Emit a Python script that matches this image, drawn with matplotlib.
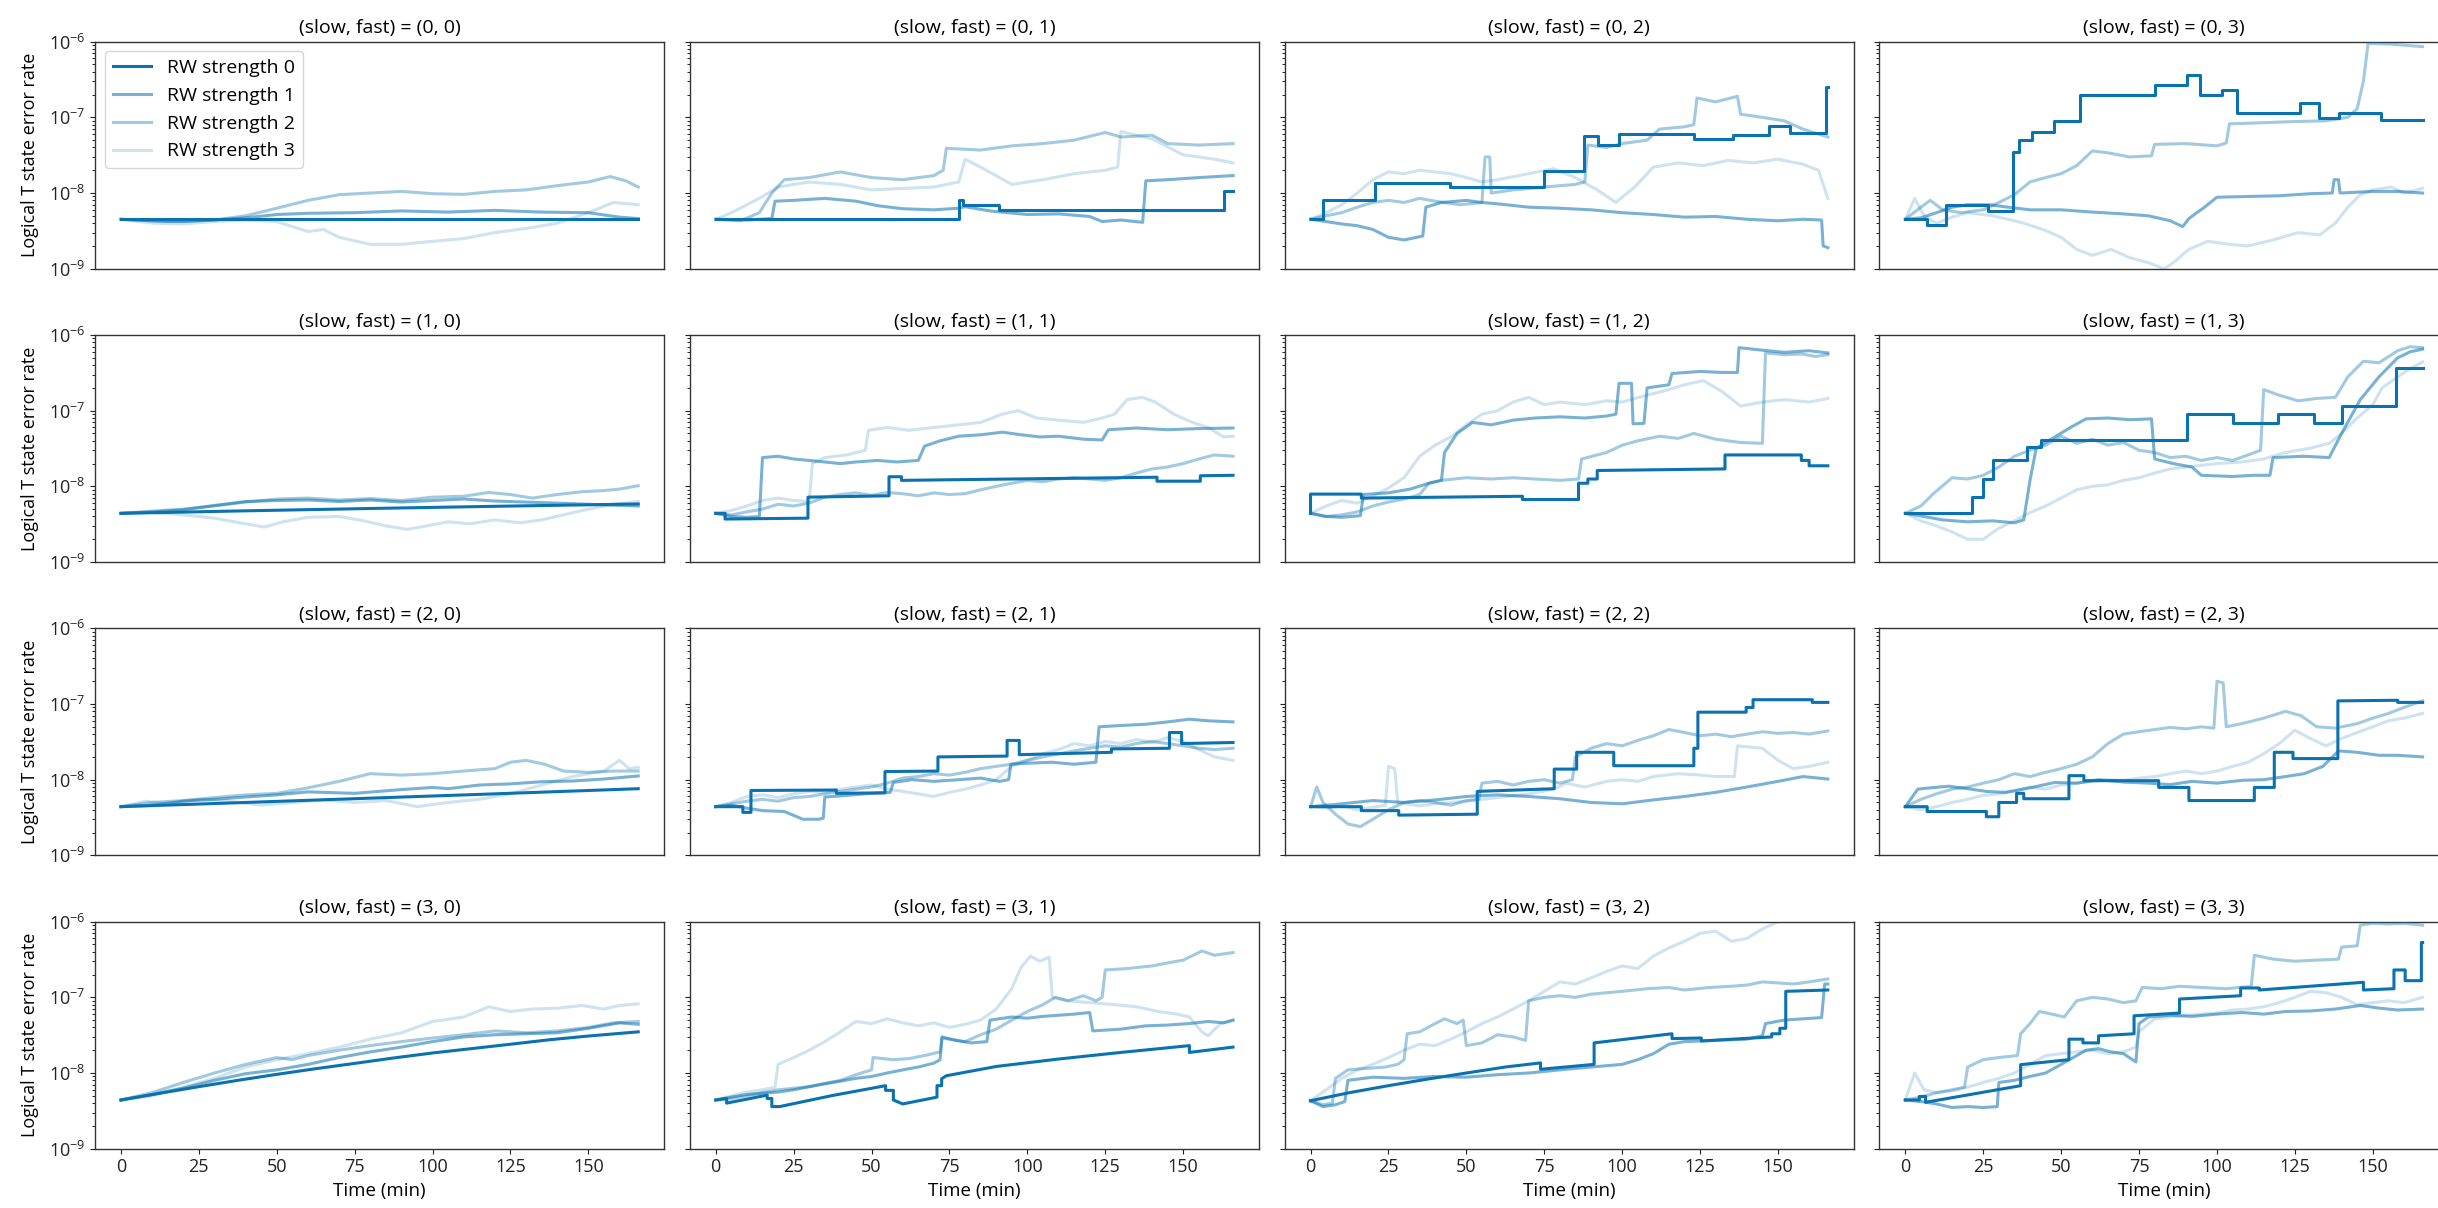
import matplotlib
matplotlib.use("Agg")
import matplotlib.pyplot as plt

plt.rcParams["font.family"] = ["Open Sans", "DejaVu Sans"]
plt.rcParams["font.size"] = 13
plt.rcParams["mathtext.fontset"] = "custom"
plt.rcParams["mathtext.rm"] = "Open Sans"
plt.rcParams["mathtext.default"] = "regular"

# time (min), logical T state error rate -- one list per (slow, fast) panel and RW strength
s00_0 = [(0, 4.5e-9), (166, 4.5e-9)]
s00_1 = [(0, 4.5e-9), (10, 4.3e-9), (20, 4.2e-9), (30, 4.4e-9), (40, 4.7e-9), (50, 5.2e-9), (60, 5.4e-9), (75, 5.5e-9), (90, 5.8e-9), (105, 5.6e-9), (120, 5.9e-9), (135, 5.6e-9), (150, 5.5e-9), (160, 4.8e-9), (166, 4.6e-9)]
s00_2 = [(0, 4.5e-9), (15, 4.2e-9), (30, 4.4e-9), (40, 5.0e-9), (50, 6.3e-9), (60, 8.0e-9), (70, 9.5e-9), (80, 1.0e-8), (90, 1.05e-8), (100, 9.8e-9), (110, 9.6e-9), (120, 1.05e-8), (130, 1.1e-8), (140, 1.25e-8), (150, 1.4e-8), (157, 1.65e-8), (162, 1.45e-8), (166, 1.2e-8)]
s00_3 = [(0, 4.5e-9), (10, 4.0e-9), (20, 3.9e-9), (30, 4.2e-9), (40, 4.4e-9), (50, 4.2e-9), (55, 3.6e-9), (60, 3.1e-9), (65, 3.3e-9), (70, 2.6e-9), (80, 2.1e-9), (90, 2.1e-9), (100, 2.3e-9), (110, 2.5e-9), (120, 3.0e-9), (130, 3.4e-9), (140, 4.0e-9), (150, 5.5e-9), (158, 7.5e-9), (166, 7.0e-9)]

s01_0 = [(0, 4.5e-9), (78, 4.5e-9), (78, 8.1e-9), (79.5, 8.1e-9), (79.5, 7.0e-9), (91, 7.0e-9), (91, 6.0e-9), (163, 6.0e-9), (163, 1.07e-8), (166, 1.07e-8)]
s01_1 = [(0, 4.5e-9), (10, 4.4e-9), (18, 4.6e-9), (19, 7.8e-9), (25, 8.0e-9), (35, 8.5e-9), (45, 7.8e-9), (52, 6.8e-9), (60, 6.2e-9), (70, 6.0e-9), (78, 6.3e-9), (80, 6.6e-9), (88, 5.8e-9), (100, 5.2e-9), (110, 5.3e-9), (120, 4.9e-9), (124, 4.2e-9), (130, 4.4e-9), (137, 4.1e-9), (138, 1.45e-8), (145, 1.5e-8), (155, 1.6e-8), (166, 1.7e-8)]
s01_2 = [(0, 4.5e-9), (8, 4.3e-9), (14, 5.5e-9), (18, 1.0e-8), (22, 1.5e-8), (30, 1.6e-8), (40, 1.9e-8), (50, 1.6e-8), (60, 1.5e-8), (70, 1.7e-8), (73, 2.0e-8), (74, 3.9e-8), (85, 3.7e-8), (95, 4.2e-8), (105, 4.5e-8), (115, 5.0e-8), (125, 6.3e-8), (130, 5.5e-8), (140, 5.8e-8), (145, 4.5e-8), (155, 4.3e-8), (166, 4.5e-8)]
s01_3 = [(0, 4.5e-9), (5, 5.5e-9), (10, 7e-9), (15, 9e-9), (20, 1.2e-8), (30, 1.4e-8), (40, 1.3e-8), (50, 1.1e-8), (60, 1.15e-8), (70, 1.2e-8), (78, 1.4e-8), (80, 2.8e-8), (85, 2.2e-8), (95, 1.3e-8), (105, 1.5e-8), (115, 1.8e-8), (125, 2.0e-8), (129, 2.2e-8), (130, 6.5e-8), (140, 5.2e-8), (150, 3.2e-8), (160, 2.8e-8), (166, 2.5e-8)]

s02_0 = [(0, 4.5e-9), (4, 4.5e-9), (4, 8.1e-9), (20.6, 8.1e-9), (20.6, 1.37e-8), (44.6, 1.37e-8), (44.6, 1.21e-8), (75, 1.21e-8), (75, 1.97e-8), (87.7, 1.97e-8), (87.7, 5.7e-8), (92.3, 5.7e-8), (92.3, 4.3e-8), (99, 4.3e-8), (99, 6.0e-8), (123, 6.0e-8), (123, 5.1e-8), (135.5, 5.1e-8), (135.5, 5.8e-8), (147, 5.8e-8), (147, 7.8e-8), (154, 7.8e-8), (154, 6.3e-8), (165.5, 6.3e-8), (165.5, 2.5e-7), (166, 2.5e-7)]
s02_1 = [(0, 4.5e-9), (5, 4.2e-9), (10, 3.9e-9), (15, 3.7e-9), (20, 3.3e-9), (25, 2.6e-9), (30, 2.4e-9), (36, 2.7e-9), (37, 6.5e-9), (42, 7.5e-9), (50, 8.0e-9), (55, 7.5e-9), (60, 7.2e-9), (70, 6.5e-9), (80, 6.3e-9), (90, 6.0e-9), (100, 5.5e-9), (110, 5.2e-9), (120, 4.8e-9), (130, 4.9e-9), (140, 4.5e-9), (150, 4.3e-9), (158, 4.5e-9), (164, 4.4e-9), (164.5, 2.0e-9), (166, 1.9e-9)]
s02_2 = [(0, 4.5e-9), (5, 5.0e-9), (10, 5.5e-9), (15, 6.5e-9), (20, 7.5e-9), (25, 8.0e-9), (30, 7.5e-9), (35, 8.5e-9), (40, 7.8e-9), (48, 7.0e-9), (55, 7.5e-9), (56, 3.0e-8), (57.5, 3.0e-8), (58, 1.0e-8), (65, 1.1e-8), (75, 1.2e-8), (85, 1.3e-8), (88, 1.4e-8), (89, 4.3e-8), (95, 4.0e-8), (100, 4.5e-8), (108, 5.0e-8), (112, 7.0e-8), (120, 7.5e-8), (123, 8.0e-8), (124, 1.8e-7), (130, 1.6e-7), (137, 1.9e-7), (138, 1.1e-7), (145, 1.0e-7), (152, 9e-8), (158, 7e-8), (166, 5.5e-8)]
s02_3 = [(0, 4.5e-9), (5, 5.5e-9), (10, 7e-9), (15, 1.0e-8), (20, 1.5e-8), (25, 1.9e-8), (30, 1.8e-8), (35, 2.0e-8), (40, 1.9e-8), (45, 1.8e-8), (50, 1.6e-8), (55, 1.4e-8), (60, 1.5e-8), (70, 1.8e-8), (78, 2.1e-8), (85, 1.6e-8), (92, 1.1e-8), (98, 7.5e-9), (104, 1.2e-8), (110, 2.2e-8), (118, 2.5e-8), (126, 2.3e-8), (134, 2.7e-8), (142, 2.5e-8), (150, 2.8e-8), (158, 2.4e-8), (163, 2.0e-8), (166, 8.5e-9)]

s03_0 = [(0, 4.5e-9), (7, 4.5e-9), (7, 3.8e-9), (13, 3.8e-9), (13, 6.9e-9), (26.6, 6.9e-9), (26.6, 5.8e-9), (34.5, 5.8e-9), (34.5, 3.5e-8), (36.5, 3.5e-8), (36.5, 5.0e-8), (40.5, 5.0e-8), (40.5, 6.5e-8), (47.7, 6.5e-8), (47.7, 9.0e-8), (56, 9.0e-8), (56, 1.97e-7), (80, 1.97e-7), (80, 2.7e-7), (90.4, 2.7e-7), (90.4, 3.6e-7), (94.5, 3.6e-7), (94.5, 2.0e-7), (101.7, 2.0e-7), (101.7, 2.3e-7), (106.5, 2.3e-7), (106.5, 1.13e-7), (126.8, 1.13e-7), (126.8, 1.53e-7), (132.8, 1.53e-7), (132.8, 9.7e-8), (139.3, 9.7e-8), (139.3, 1.13e-7), (152.5, 1.13e-7), (152.5, 9.2e-8), (166, 9.2e-8)]
s03_1 = [(0, 4.5e-9), (5, 4.7e-9), (10, 5.5e-9), (15, 6.5e-9), (20, 7.0e-9), (27, 7.0e-9), (33, 6.5e-9), (40, 6.0e-9), (50, 6.0e-9), (60, 5.6e-9), (70, 5.3e-9), (78, 5.0e-9), (85, 4.3e-9), (89, 3.6e-9), (91, 4.6e-9), (96, 6.5e-9), (100, 8.8e-9), (110, 9.0e-9), (120, 9.2e-9), (130, 9.8e-9), (137, 1.0e-8), (137.6, 1.5e-8), (139, 1.5e-8), (139.5, 1.0e-8), (150, 1.05e-8), (158, 1.05e-8), (166, 1.0e-8)]
s03_2 = [(0, 4.5e-9), (5, 6.5e-9), (8, 8.0e-9), (12, 6.0e-9), (18, 5.5e-9), (25, 6.0e-9), (30, 7.5e-9), (35, 9.5e-9), (40, 1.4e-8), (45, 1.6e-8), (50, 1.8e-8), (55, 2.3e-8), (60, 3.6e-8), (65, 3.4e-8), (72, 3.0e-8), (79, 3.1e-8), (80, 4.4e-8), (90, 4.5e-8), (100, 4.2e-8), (103, 4.6e-8), (104, 8.2e-8), (115, 8.5e-8), (125, 8.8e-8), (135, 9.0e-8), (142, 1.0e-7), (145, 1.3e-7), (147, 3.0e-7), (148.5, 9.5e-7), (155, 9.3e-7), (160, 9.0e-7), (166, 8.6e-7)]
s03_3 = [(0, 4.5e-9), (3, 8.5e-9), (6, 5.0e-9), (10, 4.0e-9), (15, 4.8e-9), (20, 5.5e-9), (28, 5.0e-9), (34, 4.4e-9), (38, 4.0e-9), (45, 3.2e-9), (50, 2.6e-9), (55, 1.8e-9), (60, 1.5e-9), (66, 1.8e-9), (72, 1.4e-9), (78, 1.2e-9), (83, 1.0e-9), (86, 1.2e-9), (91, 1.8e-9), (97, 2.3e-9), (104, 2.1e-9), (110, 2.0e-9), (118, 2.4e-9), (126, 3.0e-9), (133, 2.8e-9), (138, 4.0e-9), (142, 6.5e-9), (146, 9.5e-9), (150, 1.1e-8), (156, 1.2e-8), (160, 1.0e-8), (166, 1.15e-8)]

s10_0 = [(0, 4.4e-9), (40, 4.75e-9), (80, 5.1e-9), (120, 5.45e-9), (166, 5.85e-9)]
s10_1 = [(0, 4.4e-9), (10, 4.6e-9), (20, 4.9e-9), (30, 5.6e-9), (40, 6.3e-9), (50, 6.5e-9), (60, 6.6e-9), (70, 6.3e-9), (80, 6.6e-9), (90, 6.2e-9), (100, 6.5e-9), (110, 6.8e-9), (120, 6.4e-9), (130, 6.2e-9), (140, 6.0e-9), (150, 5.8e-9), (160, 5.6e-9), (166, 5.5e-9)]
s10_2 = [(0, 4.4e-9), (10, 4.7e-9), (20, 5.0e-9), (30, 5.5e-9), (40, 6.2e-9), (50, 6.8e-9), (60, 7.0e-9), (70, 6.6e-9), (80, 6.9e-9), (90, 6.5e-9), (100, 7.2e-9), (110, 7.4e-9), (118, 8.3e-9), (125, 7.8e-9), (132, 7.0e-9), (140, 7.8e-9), (148, 8.5e-9), (155, 8.8e-9), (160, 9.2e-9), (166, 1.02e-8)]
s10_3 = [(0, 4.4e-9), (10, 4.5e-9), (20, 4.2e-9), (30, 3.8e-9), (40, 3.2e-9), (46, 2.9e-9), (52, 3.4e-9), (60, 3.9e-9), (70, 4.0e-9), (78, 3.5e-9), (85, 3.0e-9), (92, 2.7e-9), (98, 3.0e-9), (105, 3.4e-9), (112, 3.2e-9), (120, 3.6e-9), (128, 3.3e-9), (135, 3.6e-9), (142, 4.2e-9), (150, 5.0e-9), (158, 5.8e-9), (166, 6.3e-9)]

s11_0 = [(0, 4.4e-9), (3, 4.4e-9), (3, 3.7e-9), (29.6, 3.8e-9), (29.6, 7.2e-9), (55.6, 7.5e-9), (55.6, 1.34e-8), (59.6, 1.34e-8), (59.6, 1.2e-8), (141.6, 1.32e-8), (141.6, 1.17e-8), (155.5, 1.17e-8), (155.5, 1.38e-8), (166, 1.4e-8)]
s11_1 = [(0, 4.4e-9), (5, 4.0e-9), (10, 3.9e-9), (14, 4.0e-9), (15, 2.4e-8), (20, 2.5e-8), (25, 2.3e-8), (30, 2.2e-8), (35, 2.1e-8), (40, 2.0e-8), (45, 2.1e-8), (52, 2.2e-8), (58, 2.1e-8), (65, 2.2e-8), (67, 3.4e-8), (72, 4.0e-8), (78, 4.6e-8), (85, 4.8e-8), (92, 5.2e-8), (98, 4.8e-8), (104, 4.5e-8), (110, 4.6e-8), (118, 4.2e-8), (124, 4.1e-8), (126, 5.6e-8), (135, 5.9e-8), (145, 5.6e-8), (155, 5.8e-8), (166, 5.9e-8)]
s11_2 = [(0, 4.4e-9), (5, 4.2e-9), (10, 4.6e-9), (15, 5.0e-9), (20, 5.8e-9), (25, 5.5e-9), (30, 6.0e-9), (35, 7.2e-9), (40, 7.8e-9), (45, 8.2e-9), (50, 7.6e-9), (55, 8.3e-9), (60, 8.0e-9), (65, 7.5e-9), (70, 8.2e-9), (75, 7.8e-9), (80, 8.0e-9), (85, 9.0e-9), (90, 1.0e-8), (95, 1.1e-8), (100, 1.2e-8), (105, 1.15e-8), (110, 1.25e-8), (115, 1.3e-8), (120, 1.25e-8), (125, 1.2e-8), (130, 1.3e-8), (135, 1.5e-8), (140, 1.7e-8), (145, 1.8e-8), (150, 2.0e-8), (155, 2.3e-8), (160, 2.6e-8), (166, 2.5e-8)]
s11_3 = [(0, 4.4e-9), (5, 4.8e-9), (10, 5.5e-9), (15, 6.5e-9), (20, 7.0e-9), (25, 6.5e-9), (30, 6.3e-9), (31, 2.0e-8), (35, 2.4e-8), (42, 2.6e-8), (48, 3.0e-8), (49, 5.5e-8), (55, 6.0e-8), (62, 5.5e-8), (70, 6.0e-8), (78, 6.5e-8), (85, 7.0e-8), (92, 9.0e-8), (97, 1.0e-7), (103, 8.0e-8), (110, 7.5e-8), (118, 7.0e-8), (124, 8.0e-8), (128, 9.0e-8), (132, 1.4e-7), (137, 1.5e-7), (141, 1.3e-7), (147, 9.0e-8), (153, 7.0e-8), (158, 6.0e-8), (163, 4.5e-8), (166, 4.6e-8)]

s12_0 = [(0, 4.4e-9), (0, 7.9e-9), (16.3, 7.9e-9), (16.3, 7.0e-9), (68, 7.4e-9), (68, 6.7e-9), (86, 6.7e-9), (86, 1.1e-8), (89, 1.1e-8), (89, 1.25e-8), (92, 1.25e-8), (92, 1.62e-8), (133, 1.7e-8), (133, 2.6e-8), (157.5, 2.6e-8), (157.5, 2.2e-8), (160, 2.2e-8), (160, 1.87e-8), (166, 1.87e-8)]
s12_1 = [(0, 4.4e-9), (5, 4.0e-9), (10, 3.9e-9), (16, 4.1e-9), (17, 7.8e-9), (25, 8.2e-9), (32, 9.2e-9), (38, 1.1e-8), (42, 1.2e-8), (43, 2.8e-8), (47, 5.0e-8), (52, 7.0e-8), (58, 6.5e-8), (65, 7.5e-8), (72, 8.0e-8), (80, 8.3e-8), (88, 8.0e-8), (95, 8.5e-8), (98, 9.0e-8), (99, 2.3e-7), (103, 2.3e-7), (103.5, 6.7e-8), (107, 6.8e-8), (108, 2.0e-7), (115, 2.2e-7), (116, 3.1e-7), (125, 3.3e-7), (132, 3.2e-7), (137, 3.2e-7), (137.5, 6.8e-7), (145, 6.3e-7), (152, 5.9e-7), (160, 6.2e-7), (166, 5.8e-7)]
s12_2 = [(0, 4.4e-9), (5, 4.0e-9), (10, 4.2e-9), (15, 4.6e-9), (20, 5.5e-9), (25, 6.2e-9), (30, 6.8e-9), (35, 7.8e-9), (38, 1.1e-8), (42, 1.2e-8), (50, 1.3e-8), (58, 1.25e-8), (65, 1.3e-8), (72, 1.25e-8), (80, 1.2e-8), (86, 1.25e-8), (87, 2.3e-8), (95, 2.8e-8), (100, 3.5e-8), (105, 4.0e-8), (112, 4.6e-8), (118, 4.3e-8), (123, 5.0e-8), (130, 4.2e-8), (138, 3.8e-8), (145, 3.7e-8), (146, 5.8e-7), (152, 5.5e-7), (158, 5.6e-7), (162, 5.2e-7), (166, 5.5e-7)]
s12_3 = [(0, 4.4e-9), (5, 5.5e-9), (10, 6.5e-9), (15, 6.0e-9), (20, 7.5e-9), (25, 9.5e-9), (30, 1.3e-8), (35, 2.5e-8), (40, 3.5e-8), (45, 4.5e-8), (50, 6.5e-8), (55, 9.0e-8), (60, 1.0e-7), (65, 1.3e-7), (70, 1.5e-7), (75, 1.2e-7), (80, 1.3e-7), (88, 1.2e-7), (95, 1.35e-7), (100, 1.3e-7), (108, 1.6e-7), (115, 1.9e-7), (120, 2.2e-7), (126, 2.5e-7), (132, 1.8e-7), (138, 1.15e-7), (145, 1.3e-7), (152, 1.4e-7), (160, 1.3e-7), (166, 1.45e-7)]

s13_0 = [(0, 4.4e-9), (21.3, 4.4e-9), (21.3, 7.2e-9), (25, 7.2e-9), (25, 1.25e-8), (28, 1.25e-8), (28, 2.2e-8), (39, 2.2e-8), (39, 3.3e-8), (43.6, 3.3e-8), (43.6, 4.1e-8), (90.4, 4.1e-8), (90.4, 9.0e-8), (105.2, 9.0e-8), (105.2, 6.8e-8), (119.6, 6.8e-8), (119.6, 9.0e-8), (131, 9.0e-8), (131, 6.8e-8), (140, 6.8e-8), (140, 1.16e-7), (157.5, 1.16e-7), (157.5, 3.7e-7), (166, 3.7e-7)]
s13_1 = [(0, 4.4e-9), (6, 4.0e-9), (12, 3.6e-9), (20, 3.4e-9), (28, 3.5e-9), (35, 3.3e-9), (38, 3.6e-9), (40, 1.2e-8), (42, 3.2e-8), (48, 4.5e-8), (53, 6.0e-8), (58, 7.8e-8), (65, 8.0e-8), (72, 7.6e-8), (79, 7.8e-8), (80, 2.3e-8), (86, 2.0e-8), (92, 1.8e-8), (95, 1.4e-8), (105, 1.35e-8), (112, 1.4e-8), (117, 1.4e-8), (118, 2.4e-8), (128, 2.5e-8), (136, 2.4e-8), (140, 5.0e-8), (146, 1.4e-7), (152, 2.8e-7), (158, 5.0e-7), (162, 6.0e-7), (166, 6.5e-7)]
s13_2 = [(0, 4.4e-9), (5, 5.5e-9), (9, 8.0e-9), (15, 1.3e-8), (20, 1.25e-8), (25, 1.4e-8), (30, 1.8e-8), (35, 2.5e-8), (40, 3.0e-8), (45, 3.5e-8), (50, 4.6e-8), (55, 3.7e-8), (60, 4.2e-8), (65, 3.5e-8), (70, 3.8e-8), (75, 3.0e-8), (80, 2.8e-8), (85, 2.4e-8), (90, 2.5e-8), (95, 2.2e-8), (100, 2.4e-8), (105, 2.2e-8), (110, 2.6e-8), (114, 3.0e-8), (115, 1.9e-7), (120, 1.6e-7), (126, 1.35e-7), (132, 1.45e-7), (138, 1.5e-7), (142, 2.8e-7), (147, 4.5e-7), (152, 4.3e-7), (158, 6.2e-7), (162, 7.0e-7), (166, 6.8e-7)]
s13_3 = [(0, 4.4e-9), (5, 3.5e-9), (10, 3.0e-9), (15, 2.5e-9), (20, 2.0e-9), (25, 2.0e-9), (30, 2.8e-9), (35, 3.5e-9), (40, 4.5e-9), (45, 5.5e-9), (50, 7.0e-9), (55, 9.0e-9), (60, 1.0e-8), (65, 1.05e-8), (70, 1.2e-8), (75, 1.3e-8), (80, 1.5e-8), (85, 1.7e-8), (90, 1.8e-8), (95, 1.9e-8), (100, 2.0e-8), (108, 2.1e-8), (115, 2.3e-8), (122, 2.8e-8), (130, 3.2e-8), (136, 3.7e-8), (140, 5.0e-8), (145, 8.0e-8), (150, 1.2e-7), (153, 2.0e-7), (158, 2.8e-7), (162, 3.6e-7), (166, 4.4e-7)]

s20_0 = [(0, 4.4e-9), (40, 5.0e-9), (80, 5.7e-9), (120, 6.5e-9), (166, 7.6e-9)]
s20_1 = [(0, 4.4e-9), (10, 4.6e-9), (20, 5.2e-9), (30, 5.5e-9), (40, 5.9e-9), (50, 6.3e-9), (60, 6.9e-9), (75, 6.6e-9), (90, 7.4e-9), (100, 7.9e-9), (105, 7.6e-9), (115, 8.5e-9), (125, 8.8e-9), (135, 9.4e-9), (145, 9.6e-9), (155, 1.02e-8), (166, 1.12e-8)]
s20_2 = [(0, 4.4e-9), (10, 5.0e-9), (20, 5.3e-9), (30, 5.8e-9), (40, 6.3e-9), (50, 6.6e-9), (60, 7.8e-9), (70, 9.5e-9), (80, 1.2e-8), (90, 1.15e-8), (100, 1.2e-8), (110, 1.3e-8), (120, 1.4e-8), (125, 1.7e-8), (130, 1.8e-8), (136, 1.6e-8), (142, 1.3e-8), (150, 1.25e-8), (158, 1.3e-8), (166, 1.3e-8)]
s20_3 = [(0, 4.4e-9), (8, 5.2e-9), (15, 4.8e-9), (25, 5.5e-9), (35, 5.2e-9), (45, 4.6e-9), (55, 5.0e-9), (65, 5.4e-9), (75, 5.0e-9), (85, 5.3e-9), (95, 4.4e-9), (105, 5.0e-9), (115, 5.5e-9), (125, 6.5e-9), (135, 8.5e-9), (145, 1.1e-8), (155, 1.3e-8), (160, 1.8e-8), (163, 1.4e-8), (166, 1.45e-8)]

s21_0 = [(0, 4.4e-9), (8.7, 4.4e-9), (8.7, 3.7e-9), (11.3, 3.7e-9), (11.3, 7.2e-9), (38.7, 7.3e-9), (38.7, 6.6e-9), (54.3, 6.7e-9), (54.3, 1.28e-8), (71.3, 1.3e-8), (71.3, 2.0e-8), (93.5, 2.05e-8), (93.5, 3.3e-8), (97.4, 3.3e-8), (97.4, 2.14e-8), (127, 2.3e-8), (127, 2.55e-8), (145.6, 2.6e-8), (145.6, 4.2e-8), (149.5, 4.2e-8), (149.5, 3.0e-8), (166, 3.1e-8)]
s21_1 = [(0, 4.4e-9), (5, 4.6e-9), (10, 4.2e-9), (15, 3.9e-9), (22, 3.8e-9), (28, 3.0e-9), (33, 3.0e-9), (34.5, 3.1e-9), (35, 5.9e-9), (42, 6.2e-9), (50, 6.6e-9), (56, 6.8e-9), (57, 9.2e-9), (63, 1.0e-8), (70, 9.5e-9), (78, 1.0e-8), (85, 1.05e-8), (91, 9.5e-9), (94, 1.0e-8), (94.7, 1.6e-8), (100, 1.65e-8), (108, 1.7e-8), (115, 1.6e-8), (122, 1.7e-8), (123, 5.0e-8), (130, 5.2e-8), (138, 5.4e-8), (145, 5.8e-8), (152, 6.3e-8), (158, 6.0e-8), (166, 5.8e-8)]
s21_2 = [(0, 4.4e-9), (5, 4.8e-9), (10, 5.2e-9), (15, 5.5e-9), (20, 5.2e-9), (25, 5.8e-9), (30, 6.0e-9), (35, 6.5e-9), (40, 7.0e-9), (45, 7.5e-9), (50, 8.0e-9), (55, 9.0e-9), (60, 1.05e-8), (65, 1.1e-8), (70, 1.2e-8), (75, 1.15e-8), (80, 1.25e-8), (85, 1.4e-8), (90, 1.5e-8), (95, 1.6e-8), (100, 1.8e-8), (105, 2.0e-8), (110, 2.2e-8), (115, 2.4e-8), (120, 2.6e-8), (125, 2.8e-8), (130, 2.7e-8), (135, 3.0e-8), (140, 3.2e-8), (145, 3.0e-8), (150, 2.8e-8), (155, 2.6e-8), (160, 2.5e-8), (166, 2.6e-8)]
s21_3 = [(0, 4.4e-9), (5, 5.0e-9), (10, 6.0e-9), (15, 6.3e-9), (20, 5.8e-9), (25, 6.5e-9), (30, 7.0e-9), (35, 6.8e-9), (40, 7.5e-9), (45, 8.0e-9), (50, 8.5e-9), (55, 7.5e-9), (60, 7.0e-9), (65, 6.5e-9), (70, 6.0e-9), (75, 6.8e-9), (80, 7.5e-9), (85, 8.5e-9), (90, 1.0e-8), (95, 1.5e-8), (100, 1.8e-8), (105, 2.2e-8), (110, 2.5e-8), (115, 3.0e-8), (120, 2.8e-8), (125, 3.2e-8), (130, 3.0e-8), (135, 3.4e-8), (140, 3.1e-8), (145, 3.6e-8), (150, 3.2e-8), (155, 2.5e-8), (160, 2.0e-8), (166, 1.8e-8)]

s22_0 = [(0, 4.4e-9), (16.3, 4.4e-9), (16.3, 3.9e-9), (28.3, 3.9e-9), (28.3, 3.4e-9), (53.5, 3.5e-9), (53.5, 7.0e-9), (78.2, 7.6e-9), (78.2, 1.38e-8), (85.4, 1.38e-8), (85.4, 2.3e-8), (97.3, 2.3e-8), (97.3, 1.53e-8), (123, 1.53e-8), (123, 2.6e-8), (124.3, 2.6e-8), (124.3, 7.8e-8), (139.8, 7.8e-8), (139.8, 9.0e-8), (142, 9.0e-8), (142, 1.14e-7), (161, 1.14e-7), (161, 1.05e-7), (166, 1.05e-7)]
s22_1 = [(0, 4.4e-9), (10, 4.8e-9), (20, 5.3e-9), (30, 5.0e-9), (40, 5.4e-9), (50, 6.0e-9), (60, 6.3e-9), (70, 6.0e-9), (80, 5.6e-9), (90, 5.0e-9), (100, 4.8e-9), (110, 5.4e-9), (120, 6.0e-9), (130, 6.8e-9), (140, 8.0e-9), (150, 9.5e-9), (158, 1.1e-8), (166, 1.02e-8)]
s22_2 = [(0, 4.4e-9), (2, 8e-9), (4, 5.0e-9), (8, 3.5e-9), (12, 2.6e-9), (16, 2.4e-9), (20, 3.0e-9), (25, 4.0e-9), (30, 5.0e-9), (35, 5.3e-9), (40, 5.0e-9), (45, 4.6e-9), (50, 5.3e-9), (54, 5.5e-9), (55, 9.0e-9), (60, 9.5e-9), (65, 8.5e-9), (70, 9.5e-9), (75, 1.0e-8), (80, 9.0e-9), (84, 1.0e-8), (85, 2.0e-8), (90, 2.6e-8), (95, 3.0e-8), (100, 2.8e-8), (105, 3.3e-8), (110, 3.8e-8), (115, 4.6e-8), (120, 4.2e-8), (125, 3.8e-8), (130, 4.0e-8), (135, 3.7e-8), (140, 4.0e-8), (145, 4.3e-8), (150, 4.1e-8), (155, 4.2e-8), (160, 4.0e-8), (166, 4.4e-8)]
s22_3 = [(0, 4.4e-9), (5, 4.2e-9), (10, 4.5e-9), (15, 4.0e-9), (20, 4.3e-9), (24, 4.6e-9), (25, 1.5e-8), (27, 1.4e-8), (28, 5.0e-9), (35, 4.5e-9), (40, 4.8e-9), (50, 5.2e-9), (60, 5.8e-9), (70, 6.5e-9), (78, 7.5e-9), (82, 9.0e-9), (88, 8.0e-9), (95, 9.5e-9), (100, 1.0e-8), (105, 9.5e-9), (110, 1.1e-8), (118, 1.2e-8), (125, 1.15e-8), (130, 1.1e-8), (136, 1.1e-8), (137, 2.8e-8), (145, 2.6e-8), (150, 1.8e-8), (155, 1.4e-8), (160, 1.5e-8), (166, 1.7e-8)]

s23_0 = [(0, 4.4e-9), (7, 4.4e-9), (7, 3.8e-9), (26, 3.8e-9), (26, 3.24e-9), (30, 3.24e-9), (30, 5.0e-9), (35.7, 5.0e-9), (35.7, 6.6e-9), (38, 6.6e-9), (38, 5.6e-9), (52.5, 5.6e-9), (52.5, 1.13e-8), (57.3, 1.13e-8), (57.3, 9.7e-9), (81.3, 9.7e-9), (81.3, 7.9e-9), (91, 7.9e-9), (91, 5.3e-9), (112, 5.3e-9), (112, 7.9e-9), (118.4, 7.9e-9), (118.4, 2.3e-8), (124.4, 2.3e-8), (124.4, 1.9e-8), (138.8, 1.9e-8), (138.8, 1.1e-7), (158, 1.12e-7), (158, 1.05e-7), (166, 1.05e-7)]
s23_1 = [(0, 4.4e-9), (4, 7.5e-9), (8, 7.8e-9), (14, 8.2e-9), (20, 7.6e-9), (26, 7.0e-9), (32, 6.8e-9), (40, 7.8e-9), (48, 9.2e-9), (55, 9.0e-9), (62, 1.0e-8), (70, 9.3e-9), (78, 9.0e-9), (85, 8.6e-9), (92, 9.5e-9), (100, 9.0e-9), (108, 9.8e-9), (115, 1.0e-8), (122, 1.1e-8), (128, 1.2e-8), (134, 1.5e-8), (139, 2.4e-8), (145, 2.3e-8), (152, 2.1e-8), (158, 2.1e-8), (166, 2.0e-8)]
s23_2 = [(0, 4.4e-9), (5, 5.5e-9), (10, 6.5e-9), (15, 7.5e-9), (20, 8.0e-9), (25, 9.0e-9), (30, 1.0e-8), (35, 1.2e-8), (40, 1.1e-8), (45, 1.25e-8), (50, 1.4e-8), (55, 1.6e-8), (60, 2.0e-8), (65, 3.0e-8), (70, 4.0e-8), (75, 4.3e-8), (80, 4.6e-8), (85, 4.9e-8), (90, 4.7e-8), (95, 5.0e-8), (99, 4.8e-8), (100, 2.0e-7), (102, 1.9e-7), (103, 5.0e-8), (108, 5.5e-8), (115, 6.5e-8), (122, 8.0e-8), (127, 7.0e-8), (132, 5.0e-8), (138, 4.8e-8), (145, 5.5e-8), (150, 6.5e-8), (155, 7.5e-8), (160, 9.0e-8), (166, 1.1e-7)]
s23_3 = [(0, 4.4e-9), (5, 4.0e-9), (10, 4.4e-9), (15, 5.0e-9), (20, 5.5e-9), (25, 6.2e-9), (30, 6.5e-9), (35, 7.0e-9), (40, 8.0e-9), (45, 7.5e-9), (50, 8.5e-9), (55, 9.0e-9), (60, 9.5e-9), (65, 1.0e-8), (70, 9.8e-9), (75, 1.05e-8), (80, 1.1e-8), (85, 1.2e-8), (90, 1.3e-8), (95, 1.2e-8), (100, 1.3e-8), (105, 1.5e-8), (110, 1.7e-8), (115, 2.2e-8), (120, 3.0e-8), (125, 4.5e-8), (130, 3.5e-8), (135, 2.8e-8), (140, 3.5e-8), (145, 4.2e-8), (150, 5.0e-8), (155, 6.0e-8), (160, 6.5e-8), (166, 7.5e-8)]

s30_0 = [(0, 4.4e-9), (12.5, 5.4e-9), (25, 6.6e-9), (37.5, 8.0e-9), (50, 9.6e-9), (62.5, 1.14e-8), (75, 1.34e-8), (87.5, 1.58e-8), (100, 1.84e-8), (112.5, 2.1e-8), (125, 2.4e-8), (137.5, 2.75e-8), (150, 3.08e-8), (166, 3.5e-8)]
s30_1 = [(0, 4.4e-9), (10, 5.2e-9), (20, 6.3e-9), (30, 8.0e-9), (40, 9.8e-9), (50, 1.1e-8), (60, 1.3e-8), (70, 1.6e-8), (80, 1.9e-8), (90, 2.2e-8), (100, 2.6e-8), (110, 3.0e-8), (120, 3.2e-8), (130, 3.3e-8), (140, 3.4e-8), (150, 3.9e-8), (160, 4.6e-8), (166, 4.4e-8)]
s30_2 = [(0, 4.4e-9), (10, 5.5e-9), (20, 7.5e-9), (30, 1.0e-8), (40, 1.3e-8), (50, 1.6e-8), (55, 1.5e-8), (60, 1.7e-8), (70, 2.0e-8), (80, 2.3e-8), (90, 2.6e-8), (100, 2.9e-8), (110, 3.2e-8), (120, 3.6e-8), (130, 3.4e-8), (140, 3.6e-8), (150, 4.0e-8), (158, 4.6e-8), (166, 4.8e-8)]
s30_3 = [(0, 4.4e-9), (10, 5.0e-9), (20, 6.5e-9), (30, 8.5e-9), (40, 1.2e-8), (50, 1.5e-8), (60, 1.8e-8), (70, 2.2e-8), (80, 2.8e-8), (90, 3.4e-8), (100, 4.8e-8), (110, 5.5e-8), (118, 7.5e-8), (125, 6.5e-8), (132, 7.0e-8), (140, 7.2e-8), (148, 7.8e-8), (155, 7.0e-8), (160, 7.8e-8), (166, 8.2e-8)]

s31_0 = [(0, 4.4e-9), (3.5, 4.6e-9), (3.5, 4.0e-9), (16.5, 5.1e-9), (16.5, 4.6e-9), (18, 4.6e-9), (18, 3.6e-9), (20.5, 3.6e-9), (37, 5.0e-9), (54.5, 6.8e-9), (54.5, 5.9e-9), (57, 5.9e-9), (57, 4.4e-9), (60, 3.9e-9), (71, 4.8e-9), (71, 6.8e-9), (72.5, 6.8e-9), (72.5, 8.4e-9), (74, 9.2e-9), (90, 1.22e-8), (110, 1.53e-8), (130, 1.87e-8), (152, 2.3e-8), (152, 1.87e-8), (166, 2.2e-8)]
s31_1 = [(0, 4.4e-9), (5, 4.8e-9), (10, 5.2e-9), (15, 5.4e-9), (20, 5.6e-9), (25, 6.0e-9), (30, 6.6e-9), (35, 7.2e-9), (40, 7.8e-9), (45, 8.5e-9), (50, 9.0e-9), (55, 1.0e-8), (60, 1.1e-8), (65, 1.2e-8), (70, 1.35e-8), (72, 1.5e-8), (72.6, 3.0e-8), (77, 2.7e-8), (82, 2.5e-8), (87, 2.6e-8), (88, 5.0e-8), (95, 5.5e-8), (100, 5.3e-8), (105, 5.6e-8), (110, 5.8e-8), (115, 6.0e-8), (120, 6.3e-8), (121, 3.6e-8), (130, 3.8e-8), (138, 4.2e-8), (145, 4.3e-8), (152, 4.5e-8), (158, 4.8e-8), (163, 4.6e-8), (166, 5.0e-8)]
s31_2 = [(0, 4.4e-9), (5, 4.6e-9), (10, 5.0e-9), (15, 5.5e-9), (20, 6.0e-9), (30, 6.6e-9), (40, 8.0e-9), (45, 9.5e-9), (50, 1.1e-8), (50.5, 1.6e-8), (57, 1.5e-8), (62, 1.55e-8), (67, 1.7e-8), (72, 1.9e-8), (72.6, 2.9e-8), (80, 2.6e-8), (85, 3.2e-8), (90, 3.8e-8), (95, 5.0e-8), (100, 6.5e-8), (105, 8.0e-8), (109, 1.0e-7), (113, 9.0e-8), (118, 1.05e-7), (122, 9.0e-8), (124, 1.0e-7), (125, 2.3e-7), (132, 2.4e-7), (140, 2.6e-7), (146, 2.9e-7), (150, 3.1e-7), (156, 4.1e-7), (160, 3.6e-7), (166, 3.9e-7)]
s31_3 = [(0, 4.4e-9), (5, 5.0e-9), (10, 5.6e-9), (15, 6.0e-9), (19, 6.5e-9), (20, 1.3e-8), (25, 1.6e-8), (30, 2.0e-8), (35, 2.6e-8), (40, 3.5e-8), (45, 4.8e-8), (50, 4.5e-8), (55, 5.2e-8), (60, 4.6e-8), (65, 4.2e-8), (70, 4.6e-8), (75, 4.0e-8), (80, 4.4e-8), (85, 5.0e-8), (90, 7.0e-8), (95, 1.3e-7), (98, 2.5e-7), (101, 3.5e-7), (104, 3.0e-7), (107, 3.4e-7), (108, 1.0e-7), (113, 9.0e-8), (120, 8.5e-8), (128, 8.0e-8), (135, 7.5e-8), (142, 6.5e-8), (148, 6.0e-8), (152, 5.5e-8), (156, 3.5e-8), (158, 3.1e-8), (162, 4.5e-8), (166, 5.0e-8)]

s32_0 = [(0, 4.3e-9), (12.5, 5.5e-9), (25, 6.8e-9), (37.5, 8.3e-9), (50, 1.0e-8), (62.5, 1.2e-8), (73.8, 1.36e-8), (73.8, 1.12e-8), (91, 1.3e-8), (91, 2.5e-8), (116, 3.3e-8), (116, 2.85e-8), (125.4, 2.9e-8), (125.4, 2.65e-8), (148, 3.0e-8), (148, 3.3e-8), (150.6, 3.3e-8), (150.6, 3.9e-8), (152.5, 3.9e-8), (152.5, 1.2e-7), (166, 1.25e-7)]
s32_1 = [(0, 4.3e-9), (4, 3.6e-9), (8, 3.8e-9), (11, 4.2e-9), (12, 8.0e-9), (20, 8.8e-9), (30, 8.5e-9), (40, 9.0e-9), (50, 8.8e-9), (60, 9.5e-9), (70, 1.0e-8), (80, 1.1e-8), (90, 1.2e-8), (100, 1.3e-8), (105, 1.5e-8), (110, 1.8e-8), (115, 2.4e-8), (120, 2.6e-8), (130, 2.7e-8), (140, 2.8e-8), (145, 3.1e-8), (146, 4.5e-8), (152, 5.0e-8), (158, 5.2e-8), (164, 5.4e-8), (165, 1.5e-7), (166, 1.5e-7)]
s32_2 = [(0, 4.3e-9), (4, 3.8e-9), (7, 4.0e-9), (8, 8.5e-9), (12, 1.1e-8), (18, 1.15e-8), (24, 1.2e-8), (28, 1.3e-8), (30, 1.5e-8), (31, 3.3e-8), (35, 3.5e-8), (40, 4.5e-8), (43, 5.2e-8), (47, 4.5e-8), (49, 5.0e-8), (50, 2.3e-8), (55, 2.5e-8), (60, 3.2e-8), (65, 3.0e-8), (69, 2.7e-8), (70, 9.0e-8), (75, 1.0e-7), (80, 1.05e-7), (85, 1.0e-7), (90, 1.1e-7), (95, 1.15e-7), (100, 1.2e-7), (108, 1.3e-7), (115, 1.35e-7), (120, 1.25e-7), (128, 1.35e-7), (135, 1.4e-7), (140, 1.45e-7), (145, 1.6e-7), (150, 1.55e-7), (155, 1.5e-7), (160, 1.6e-7), (166, 1.75e-7)]
s32_3 = [(0, 4.3e-9), (5, 6.0e-9), (10, 8.5e-9), (15, 1.1e-8), (20, 1.3e-8), (25, 1.6e-8), (30, 2.0e-8), (35, 2.4e-8), (40, 2.3e-8), (45, 2.8e-8), (50, 3.5e-8), (55, 4.5e-8), (60, 5.5e-8), (65, 7.0e-8), (70, 9.0e-8), (75, 1.2e-7), (80, 1.6e-7), (85, 1.5e-7), (90, 1.8e-7), (95, 2.2e-7), (100, 2.6e-7), (105, 2.4e-7), (110, 3.5e-7), (115, 4.5e-7), (120, 5.5e-7), (125, 7.0e-7), (130, 7.5e-7), (135, 5.5e-7), (140, 6.0e-7), (145, 8.0e-7), (150, 1.0e-6), (155, 1.2e-6), (160, 1.3e-6), (166, 1.5e-6)]

s33_0 = [(0, 4.4e-9), (4.5, 4.4e-9), (4.5, 4.9e-9), (6.5, 4.9e-9), (6.5, 4.1e-9), (37, 6.8e-9), (37, 1.29e-8), (52.5, 1.5e-8), (52.5, 2.8e-8), (57, 2.8e-8), (57, 2.5e-8), (62, 2.5e-8), (62, 3.1e-8), (73.4, 3.3e-8), (73.4, 5.7e-8), (88, 6.2e-8), (88, 9.5e-8), (107.6, 1.05e-7), (107.6, 1.33e-7), (113.6, 1.33e-7), (113.6, 1.25e-7), (147, 1.58e-7), (147, 1.25e-7), (156.8, 1.3e-7), (156.8, 2.3e-7), (160.4, 2.3e-7), (160.4, 1.66e-7), (165.6, 1.66e-7), (165.6, 5.3e-7), (166, 5.3e-7)]
s33_1 = [(0, 4.4e-9), (5, 4.2e-9), (10, 3.9e-9), (15, 3.5e-9), (20, 3.6e-9), (25, 3.5e-9), (29.5, 3.6e-9), (30, 7.5e-9), (35, 8.0e-9), (40, 9.0e-9), (45, 1.0e-8), (50, 1.3e-8), (55, 1.7e-8), (58, 2.0e-8), (62, 2.1e-8), (66, 1.9e-8), (70, 1.8e-8), (74, 1.4e-8), (75, 4.5e-8), (78, 5.5e-8), (85, 5.8e-8), (92, 5.6e-8), (100, 6.0e-8), (108, 6.3e-8), (115, 6.0e-8), (122, 6.5e-8), (130, 6.6e-8), (138, 7.0e-8), (146, 7.8e-8), (152, 7.2e-8), (158, 6.8e-8), (166, 7.0e-8)]
s33_2 = [(0, 4.4e-9), (5, 4.8e-9), (10, 5.5e-9), (15, 6.0e-9), (19, 6.5e-9), (20, 1.2e-8), (25, 1.5e-8), (30, 1.6e-8), (36, 1.7e-8), (37, 3.3e-8), (40, 4.5e-8), (43, 6.5e-8), (47, 6.0e-8), (51, 5.5e-8), (55, 9.0e-8), (60, 1.0e-7), (65, 9.5e-8), (70, 8.5e-8), (74, 9.0e-8), (76, 1.35e-7), (82, 1.3e-7), (88, 1.4e-7), (95, 1.35e-7), (103, 1.3e-7), (111, 1.4e-7), (112, 3.6e-7), (118, 3.2e-7), (125, 3.0e-7), (132, 3.1e-7), (139, 3.2e-7), (140, 4.6e-7), (145, 4.8e-7), (146, 9.0e-7), (150, 9.5e-7), (155, 9.3e-7), (160, 9.5e-7), (166, 9.0e-7)]
s33_3 = [(0, 4.4e-9), (3, 1.0e-8), (6, 6.0e-9), (10, 5.5e-9), (15, 5.8e-9), (20, 6.5e-9), (25, 7.5e-9), (30, 8.5e-9), (35, 1.0e-8), (40, 1.3e-8), (45, 1.7e-8), (50, 1.8e-8), (55, 1.9e-8), (60, 2.0e-8), (65, 1.8e-8), (70, 1.9e-8), (74, 2.2e-8), (75, 3.5e-8), (80, 5.2e-8), (85, 5.5e-8), (90, 5.8e-8), (95, 6.0e-8), (100, 6.2e-8), (105, 6.8e-8), (110, 7.0e-8), (115, 7.5e-8), (120, 8.5e-8), (125, 1.0e-7), (130, 1.2e-7), (135, 1.15e-7), (140, 1.0e-7), (145, 8.0e-8), (150, 8.5e-8), (155, 9.0e-8), (160, 8.5e-8), (166, 1.0e-7)]

panels = {
    (0, 0): [s00_0, s00_1, s00_2, s00_3], (0, 1): [s01_0, s01_1, s01_2, s01_3],
    (0, 2): [s02_0, s02_1, s02_2, s02_3], (0, 3): [s03_0, s03_1, s03_2, s03_3],
    (1, 0): [s10_0, s10_1, s10_2, s10_3], (1, 1): [s11_0, s11_1, s11_2, s11_3],
    (1, 2): [s12_0, s12_1, s12_2, s12_3], (1, 3): [s13_0, s13_1, s13_2, s13_3],
    (2, 0): [s20_0, s20_1, s20_2, s20_3], (2, 1): [s21_0, s21_1, s21_2, s21_3],
    (2, 2): [s22_0, s22_1, s22_2, s22_3], (2, 3): [s23_0, s23_1, s23_2, s23_3],
    (3, 0): [s30_0, s30_1, s30_2, s30_3], (3, 1): [s31_0, s31_1, s31_2, s31_3],
    (3, 2): [s32_0, s32_1, s32_2, s32_3], (3, 3): [s33_0, s33_1, s33_2, s33_3],
}

strength_labels = ["RW strength 0", "RW strength 1", "RW strength 2", "RW strength 3"]
alphas = [1.0, 0.55, 0.38, 0.2]
blue = "#0a72b0"

fig, axes = plt.subplots(
    4, 4, figsize=(24.38, 12.08), dpi=100, sharex=True, sharey=True,
    gridspec_kw=dict(left=0.039, right=1.0043, bottom=0.0491, top=0.9655,
                     wspace=0.0453, hspace=0.292),
)

for (slow, fast), series in panels.items():
    ax = axes[slow, fast]
    for k, pts in enumerate(series):
        t = [p[0] for p in pts]
        v = [p[1] for p in pts]
        ax.plot(t, v, color=blue, alpha=alphas[k], lw=2.2, zorder=5 - k,
                label=strength_labels[k])
    ax.set_yscale("log")
    ax.set_ylim(1e-9, 1e-6)
    ax.set_title(f"(slow, fast) = ({slow}, {fast})", fontsize=14)
    for sp in ax.spines.values():
        sp.set_color("#333333")
        sp.set_linewidth(1.0)
    ax.tick_params(colors="#222222", labelsize=13)
    if fast == 0:
        ax.set_ylabel("Logical T state error rate", fontsize=13, labelpad=7)
    if slow == 3:
        ax.set_xlabel("Time (min)", fontsize=13.5)
    else:
        ax.tick_params(axis="x", bottom=False)

axes[3, 0].set_xticks([0, 25, 50, 75, 100, 125, 150])

axes[0, 0].legend(loc="upper left", fontsize=14)

fig.savefig("out.png", dpi=100)
